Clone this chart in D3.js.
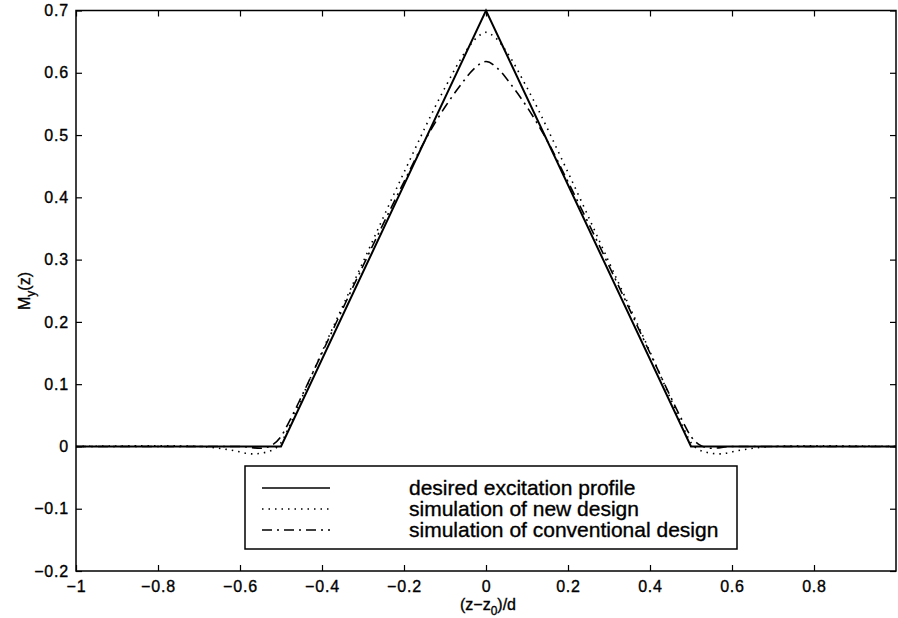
<!DOCTYPE html>
<html>
<head>
<meta charset="utf-8">
<script src="https://cdn.jsdelivr.net/npm/d3@7"></script>
<style>
  body { margin: 0; background: #fff; }
  svg { display: block; font-family: "Liberation Sans", Arial, Helvetica, sans-serif; }
  text { stroke: #000; stroke-width: 0.35px; }
</style>
</head>
<body>
<div id="chart"></div>
<script>
// Desired excitation profile (solid)
var desiredX = [-1, -0.5, 0, 0.5, 1];
var desiredY = [0, 0, 0.7, 0, 0];

// Simulation of new design (dotted)
var newX = [-1, -0.8, -0.7, -0.62, -0.57, -0.53, -0.5, -0.48, -0.45, -0.4, -0.3, -0.2, -0.1, -0.05, -0.02, 0,
            0.02, 0.05, 0.1, 0.2, 0.3, 0.4, 0.45, 0.48, 0.5, 0.53, 0.57, 0.62, 0.7, 0.8, 1];
var newY = [0, 0.001, 0, -0.006, -0.012, -0.008, 0.006, 0.032, 0.077, 0.152, 0.296, 0.44, 0.576, 0.634, 0.658, 0.665,
            0.658, 0.634, 0.576, 0.44, 0.296, 0.152, 0.077, 0.032, 0.006, -0.008, -0.012, -0.006, 0, 0.001, 0];

// Simulation of conventional design (dash-dot)
var convX = [-1, -0.6, -0.55, -0.52, -0.5, -0.48, -0.45, -0.4, -0.3, -0.2, -0.15, -0.1, -0.06, -0.03, 0,
             0.03, 0.06, 0.1, 0.15, 0.2, 0.3, 0.4, 0.45, 0.48, 0.5, 0.52, 0.55, 0.6, 1];
var convY = [0, 0, -0.003, 0.003, 0.016, 0.04, 0.08, 0.15, 0.29, 0.425, 0.49, 0.545, 0.582, 0.606, 0.618,
             0.606, 0.582, 0.545, 0.49, 0.425, 0.29, 0.15, 0.08, 0.04, 0.016, 0.003, -0.003, 0, 0];

var xTicks = [-1, -0.8, -0.6, -0.4, -0.2, 0, 0.2, 0.4, 0.6, 0.8];
var yTicks = [-0.2, -0.1, 0, 0.1, 0.2, 0.3, 0.4, 0.5, 0.6, 0.7];
var legendLabels = ["desired excitation profile", "simulation of new design", "simulation of conventional design"];

(function() {
    var width = 898, height = 618;
    var mLeft = 76, mRight = 896, mTop = 10.5, mBottom = 571;

    var svg = d3.select("#chart").append("svg")
        .attr("width", width)
        .attr("height", height);

    var x = d3.scaleLinear().domain([-1, 1]).range([mLeft, mRight]);
    var y = d3.scaleLinear().domain([-0.2, 0.7]).range([mBottom, mTop]);

    function fmt(d) {
        var s = (d === 0 || Math.abs(d) === 1) ? String(d) : d3.format(".1f")(d);
        return s.replace("-", "\u2212");
    }

    // Axes with inward ticks on all four sides
    svg.append("g")
        .attr("transform", "translate(0," + mBottom + ")")
        .call(d3.axisBottom(x).tickValues(xTicks).tickSizeInner(-6).tickSizeOuter(0).tickPadding(10).tickFormat(fmt));
    svg.append("g")
        .attr("transform", "translate(0," + mTop + ")")
        .call(d3.axisTop(x).tickValues(xTicks).tickSizeInner(-6).tickSizeOuter(0).tickFormat(""));
    svg.append("g")
        .attr("transform", "translate(" + mLeft + ",0)")
        .call(d3.axisLeft(y).tickValues(yTicks).tickSizeInner(-6).tickSizeOuter(0).tickPadding(7).tickFormat(fmt));
    svg.append("g")
        .attr("transform", "translate(" + mRight + ",0)")
        .call(d3.axisRight(y).tickValues(yTicks).tickSizeInner(-6).tickSizeOuter(0).tickFormat(""));

    svg.selectAll(".domain").remove();
    svg.selectAll(".tick line").attr("stroke", "#000").attr("stroke-width", 1.2);
    svg.selectAll(".tick text")
        .attr("fill", "#000")
        .style("font-size", "16px")
        .style("letter-spacing", "0.8px");

    // Plot frame
    svg.append("rect")
        .attr("x", mLeft).attr("y", mTop)
        .attr("width", mRight - mLeft).attr("height", mBottom - mTop)
        .attr("fill", "none").attr("stroke", "#000").attr("stroke-width", 1.5);

    // Lines
    var line = d3.line()
        .x(function(d) { return x(d[0]); })
        .y(function(d) { return y(d[1]); });
    var smooth = d3.line()
        .x(function(d) { return x(d[0]); })
        .y(function(d) { return y(d[1]); })
        .curve(d3.curveMonotoneX);

    svg.append("path")
        .datum(d3.zip(newX, newY))
        .attr("d", smooth)
        .attr("fill", "none").attr("stroke", "#000").attr("stroke-width", 1.6)
        .attr("stroke-dasharray", "1.5,5");

    svg.append("path")
        .datum(d3.zip(convX, convY))
        .attr("d", smooth)
        .attr("fill", "none").attr("stroke", "#000").attr("stroke-width", 1.6)
        .attr("stroke-dasharray", "10,5,2,5");

    svg.append("path")
        .datum(d3.zip(desiredX, desiredY))
        .attr("d", line)
        .attr("fill", "none").attr("stroke", "#000").attr("stroke-width", 2);

    // Legend
    var legend = svg.append("g");
    legend.append("rect")
        .attr("x", 245).attr("y", 466)
        .attr("width", 492).attr("height", 83)
        .attr("fill", "#fff").attr("stroke", "#000").attr("stroke-width", 1.5);

    var dashes = [null, "1.5,5", "10,5,2,5"];
    legendLabels.forEach(function(label, i) {
        var yy = 488 + i * 21;
        legend.append("line")
            .attr("x1", 262).attr("x2", 330)
            .attr("y1", yy).attr("y2", yy)
            .attr("stroke", "#000").attr("stroke-width", 1.5)
            .attr("stroke-dasharray", dashes[i]);
        legend.append("text")
            .attr("x", 409).attr("y", yy + 7)
            .style("font-size", "21px")
            .text(label);
    });

    // Axis labels
    var xl = svg.append("text")
        .attr("x", 488).attr("y", 610)
        .attr("text-anchor", "middle")
        .style("font-size", "16px");
    xl.append("tspan").text("(z\u2212z");
    xl.append("tspan").attr("dy", 5).style("font-size", "12px").text("0");
    xl.append("tspan").attr("dy", -5).text(")/d");

    var yl = svg.append("text")
        .attr("transform", "translate(30,291) rotate(-90)")
        .attr("text-anchor", "middle")
        .style("font-size", "16px");
    yl.append("tspan").text("M");
    yl.append("tspan").attr("dy", 5).style("font-size", "12px").text("y");
    yl.append("tspan").attr("dy", -5).text("(z)");
})();
</script>
</body>
</html>
